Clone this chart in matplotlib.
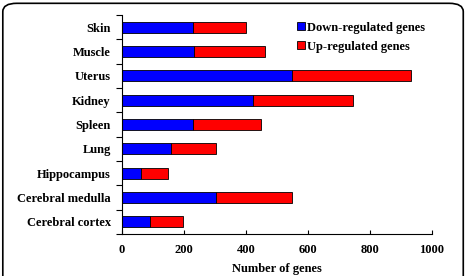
import matplotlib
matplotlib.use("Agg")
import matplotlib.pyplot as plt
from matplotlib.patches import FancyBboxPatch

categories = ["Cerebral cortex", "Cerebral medulla", "Hippocampus", "Lung",
              "Spleen", "Kidney", "Uterus", "Muscle", "Skin"]
down = [90, 305, 63, 157, 228, 424, 550, 234, 230]
up = [107, 243, 85, 146, 222, 320, 382, 229, 170]
xticks = [0, 200, 400, 600, 800, 1000]

plt.rcParams['font.family'] = ['Liberation Serif', 'DejaVu Serif']
plt.rcParams['font.weight'] = 'bold'

FS = 9
fig = plt.figure(figsize=(4.67, 2.76), dpi=100)
ax = fig.add_axes([0.261, 0.152, 0.664, 0.794])

y = list(range(len(categories)))
ax.barh(y, down, height=0.45, color='#0000ff', edgecolor='black', linewidth=0.6,
        label='Down-regulated genes')
ax.barh(y, up, left=down, height=0.45, color='#ff0000', edgecolor='black', linewidth=0.6,
        label='Up-regulated genes')

ax.set_xlim(0, 1000)
ax.set_ylim(-0.5, len(categories) - 0.5)
ax.set_xticks(xticks)
ax.set_xticklabels([str(t) for t in xticks], fontsize=FS, fontweight='bold')
ax.set_yticks(y)
ax.set_yticklabels(categories, fontsize=FS, fontweight='bold')
ax.tick_params(axis='y', length=0, pad=8)
ax.set_yticks([i + 0.5 for i in range(-1, len(categories))], minor=True)
ax.tick_params(axis='y', which='minor', length=4, direction='out', width=0.8)
ax.tick_params(axis='x', direction='in', length=3, width=0.8, pad=7)
for s in ['top', 'right']:
    ax.spines[s].set_visible(False)
for s in ['left', 'bottom']:
    ax.spines[s].set_linewidth(0.8)
ax.set_xlabel('Number of genes', fontsize=FS, fontweight='bold', labelpad=5)

leg = ax.legend(loc='upper left', bbox_to_anchor=(0.53, 1.02), frameon=False,
                fontsize=FS, handlelength=0.6, handleheight=0.6, handletextpad=0.2,
                labelspacing=0.55)
for h in leg.legend_handles:
    h.set_linewidth(0.6)

box = FancyBboxPatch((0.006, -0.05), 0.986, 1.038, boxstyle="round,pad=0,rounding_size=0.03",
                     transform=fig.transFigure, fill=False, edgecolor='black', linewidth=1.2,
                     clip_on=False)
fig.patches.append(box)

fig.savefig('out.png', dpi=100)
